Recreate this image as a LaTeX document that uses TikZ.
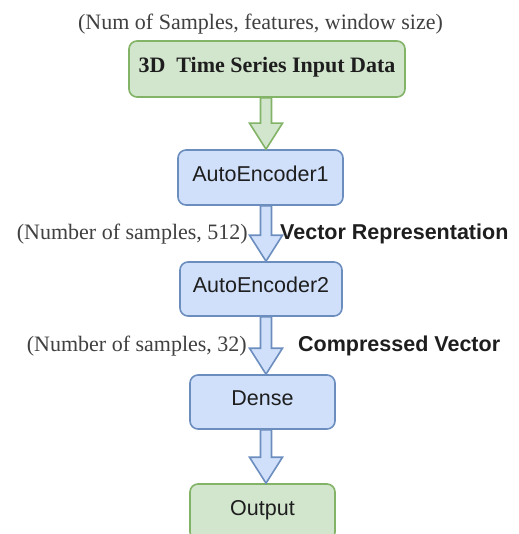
\documentclass[tikz,border=0pt]{standalone}
\usepackage{fontspec}
\setmainfont{Liberation Serif}
\setsansfont{Liberation Sans}
\usetikzlibrary{calc}

\definecolor{gfill}{HTML}{D2E5CD}
\definecolor{gline}{HTML}{82B366}
\definecolor{bfill}{HTML}{D0E0FB}
\definecolor{bline}{HTML}{6C8EBF}
\definecolor{ink}{HTML}{1E1E1E}

\tikzset{
  box/.style={draw, rounded corners=8pt, line width=1.6pt, inner sep=0pt,
    text height=0.72em, text depth=0pt, font=\sffamily\fontsize{21.5}{24}\selectfont, text=ink},
  greenbox/.style={box, fill=gfill, draw=gline},
  bluebox/.style={box, fill=bfill, draw=bline},
  greenarr/.style={fill=gfill, draw=gline, line width=1.6pt, line join=miter},
  bluearr/.style={fill=bfill, draw=bline, line width=1.6pt, line join=miter},
  shapelabel/.style={font=\fontsize{22}{26}\selectfont, text=ink!85, inner sep=0pt},
  flowlabel/.style={font=\sffamily\bfseries\fontsize{21.5}{24}\selectfont, text=ink, inner sep=0pt}
}

% block arrow running straight down the common axis, from one box to the next
\newcommand\flexarr[3]{%
  \draw[#3] let \p1=(#1.south -| axis), \p2=(#2.north -| axis) in
    (\x1-5.5pt,\y1) -- (\x1-5.5pt,\y2+26pt) -- (\x1-16.5pt,\y2+26pt) -- (\x2,\y2)
    -- (\x1+16.5pt,\y2+26pt) -- (\x1+5.5pt,\y2+26pt) -- (\x1+5.5pt,\y1) -- cycle;}

\begin{document}
\begin{tikzpicture}[x=1pt,y=-1pt]
  \useasboundingbox (0,0) rectangle (518,534);
  \clip (0,0) rectangle (518,534);
  \fill[white] (0,0) rectangle (518,534);

  \coordinate (axis) at (266,0);

  % boxes
  \node[greenbox, minimum width=276pt, minimum height=56pt,
        font=\rmfamily\bfseries\fontsize{22}{26}\selectfont] (input) at (267,69)
        {3D\ \ Time Series Input Data};
  \node[bluebox, minimum width=165pt, minimum height=55pt] (ae1) at (260.5,177.5) {AutoEncoder1};
  \node[bluebox, minimum width=162pt, minimum height=54pt] (ae2) at (261,289) {AutoEncoder2};
  \node[bluebox, minimum width=145pt, minimum height=54pt] (dense) at (262.5,402) {Dense};
  \node[greenbox, minimum width=145pt, minimum height=56pt] (out) at (262.5,512) {Output};

  % arrows
  \flexarr{input}{ae1}{greenarr}
  \flexarr{ae1}{ae2}{bluearr}
  \flexarr{ae2}{dense}{bluearr}
  \flexarr{dense}{out}{bluearr}

  % shape annotations and flow labels
  \node[shapelabel, anchor=base] (shp0) at (260.5,30) {(Num of Samples, features, window size)};
  \node[shapelabel, anchor=base east] (shp1) at (248,240) {(Number of samples, 512)};
  \node[flowlabel, anchor=base west] (lab1) at (280,240) {Vector Representation};
  \node[shapelabel, anchor=base east] (shp2) at (247,351) {(Number of samples, 32)};
  \node[flowlabel, anchor=base west] (lab2) at (298,351) {Compressed Vector};
\end{tikzpicture}
\end{document}
